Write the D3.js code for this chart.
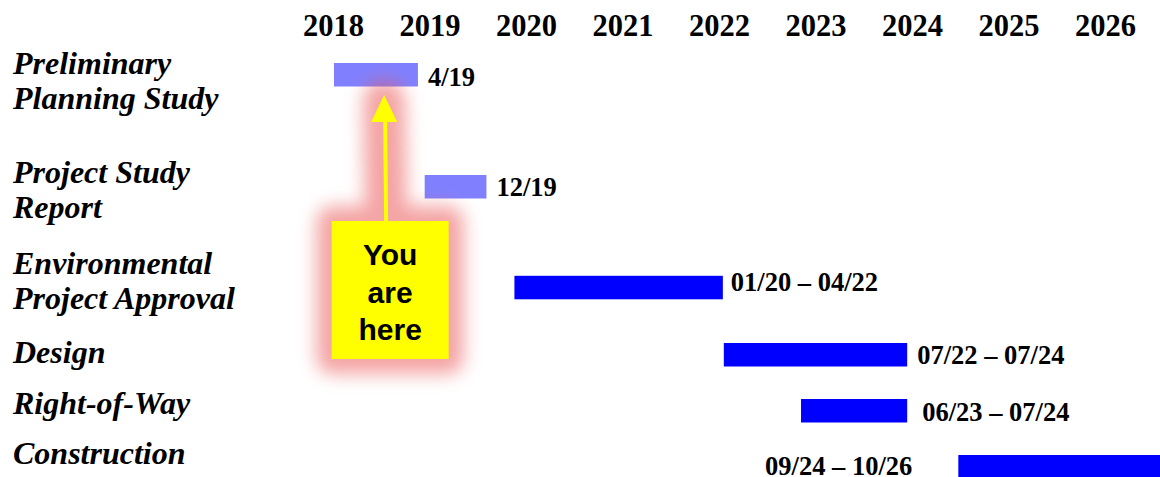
<!DOCTYPE html>
<html><head><meta charset="utf-8">
<script src="https://cdn.jsdelivr.net/npm/d3@7"></script>
<style>html,body{margin:0;padding:0;background:#fff;overflow:hidden}</style>
</head><body><svg id="c" width="1160" height="477"></svg>
<script>
// ---- data ----
const years = [2018, 2019, 2020, 2021, 2022, 2023, 2024, 2025, 2026];
const phases = [["Preliminary", "Planning Study"], ["Project Study", "Report"], ["Environmental", "Project Approval"], ["Design"], ["Right-of-Way"], ["Construction"]];
const barStart = [2018.01, 2018.95, 2019.88, 2022.05, 2022.85, 2024.48];
const barEnd   = [2018.88, 2019.59, 2022.04, 2023.95, 2023.95, 2026.58];
const dateLabels = ["4/19", "12/19", "01/20 \u2013 04/22", "07/22 \u2013 07/24", "06/23 \u2013 07/24", "09/24 \u2013 10/26"];
const completed = [true, true, false, false, false, false];
const rowPos = [0, 2, 3.8, 5, 6, 7];
const youAreHere = 2018.53;
const youText = ["You", "are", "here"];

// ---- layout ----
const svg = d3.select("#c");
const x = d3.scaleLinear().domain([2018, 2026]).range([333, 1105]);
const y = d3.scaleLinear().domain([0, 7]).range([63, 455]);
const barH = 23.5;
const labelRow = [0.19, 2.15, 3.76, 5.35, 6.27, 7.16];
const dateDy = [23, 21, 15, 21, 22, 20];
const dateGap = [10, 10, 8, 10, 15, -46];
const serif = "'Liberation Serif','Times New Roman',serif";

// year axis
const axis = d3.axisTop(x).tickValues(years).tickFormat(d3.format("d")).tickSize(0).tickPadding(0);
const ag = svg.append("g").attr("transform", "translate(0,36)").call(axis);
ag.select(".domain").remove();
ag.selectAll("text").attr("font-family", serif).attr("font-weight", "bold").attr("font-size", 30.5).attr("fill", "#000");

// left labels
const lg = svg.append("g");
phases.forEach((lines, i) => {
  const t = lg.append("text").attr("x", 13).attr("y", y(labelRow[i]))
    .attr("font-family", serif).attr("font-weight", "bold").attr("font-style", "italic")
    .attr("font-size", 32).attr("fill", "#000");
  lines.forEach((ln, j) => t.append("tspan").attr("x", 13).attr("dy", j === 0 ? 0 : 35).text(ln));
});

// bars
svg.append("g").selectAll("rect").data(barStart).join("rect")
  .attr("x", (d) => x(d))
  .attr("y", (d, i) => y(rowPos[i]))
  .attr("width", (d, i) => x(barEnd[i]) - x(d))
  .attr("height", barH)
  .attr("fill", (d, i) => completed[i] ? "#8080ff" : "#0000ff");

// date labels
svg.append("g").selectAll("text").data(dateLabels).join("text")
  .attr("x", (d, i) => dateGap[i] >= 0 ? x(barEnd[i]) + dateGap[i] : x(barStart[i]) + dateGap[i])
  .attr("y", (d, i) => y(rowPos[i]) + dateDy[i])
  .attr("text-anchor", (d, i) => dateGap[i] >= 0 ? "start" : "end")
  .attr("font-family", serif).attr("font-weight", "bold").attr("font-size", 26.5).attr("fill", "#000")
  .text((d) => d);

// you are here callout
const defs = svg.append("defs");
const f = defs.append("filter").attr("id", "glow").attr("x", "-50%").attr("y", "-50%").attr("width", "200%").attr("height", "200%");
f.append("feGaussianBlur").attr("stdDeviation", 9);

const cx = x(youAreHere) + 6;
const boxW = 117, boxTop = 221, boxBot = 359;
const tipX = x(youAreHere), tipY = 95;
const glow = svg.append("g").attr("filter", "url(#glow)").attr("opacity", 0.55);
glow.append("rect").attr("x", cx - boxW / 2 - 15).attr("y", boxTop - 15).attr("width", boxW + 30).attr("height", boxBot - boxTop + 30).attr("rx", 16).attr("fill", "#eb5a5a");
glow.append("line").attr("x1", cx - 4).attr("y1", boxTop).attr("x2", tipX).attr("y2", tipY + 6).attr("stroke", "#eb5a5a").attr("stroke-width", 42).attr("stroke-linecap", "round");

svg.append("line").attr("x1", cx - 4).attr("y1", boxTop).attr("x2", tipX + 1).attr("y2", tipY + 25)
  .attr("stroke", "#ffff00").attr("stroke-width", 4);
svg.append("path").attr("d", `M${tipX},${tipY} L${tipX + 13},${tipY + 27} L${tipX - 13},${tipY + 27} Z`).attr("fill", "#ffff00");
svg.append("rect").attr("x", cx - boxW / 2).attr("y", boxTop).attr("width", boxW).attr("height", boxBot - boxTop).attr("fill", "#ffff00");
svg.append("g").selectAll("text").data(youText).join("text")
  .attr("x", cx).attr("y", (d, i) => 265 + i * 37.5)
  .attr("text-anchor", "middle").attr("font-family", "'Liberation Sans',Arial,sans-serif")
  .attr("font-weight", "bold").attr("font-size", 30).attr("fill", "#000").text((d) => d);
</script></body></html>
